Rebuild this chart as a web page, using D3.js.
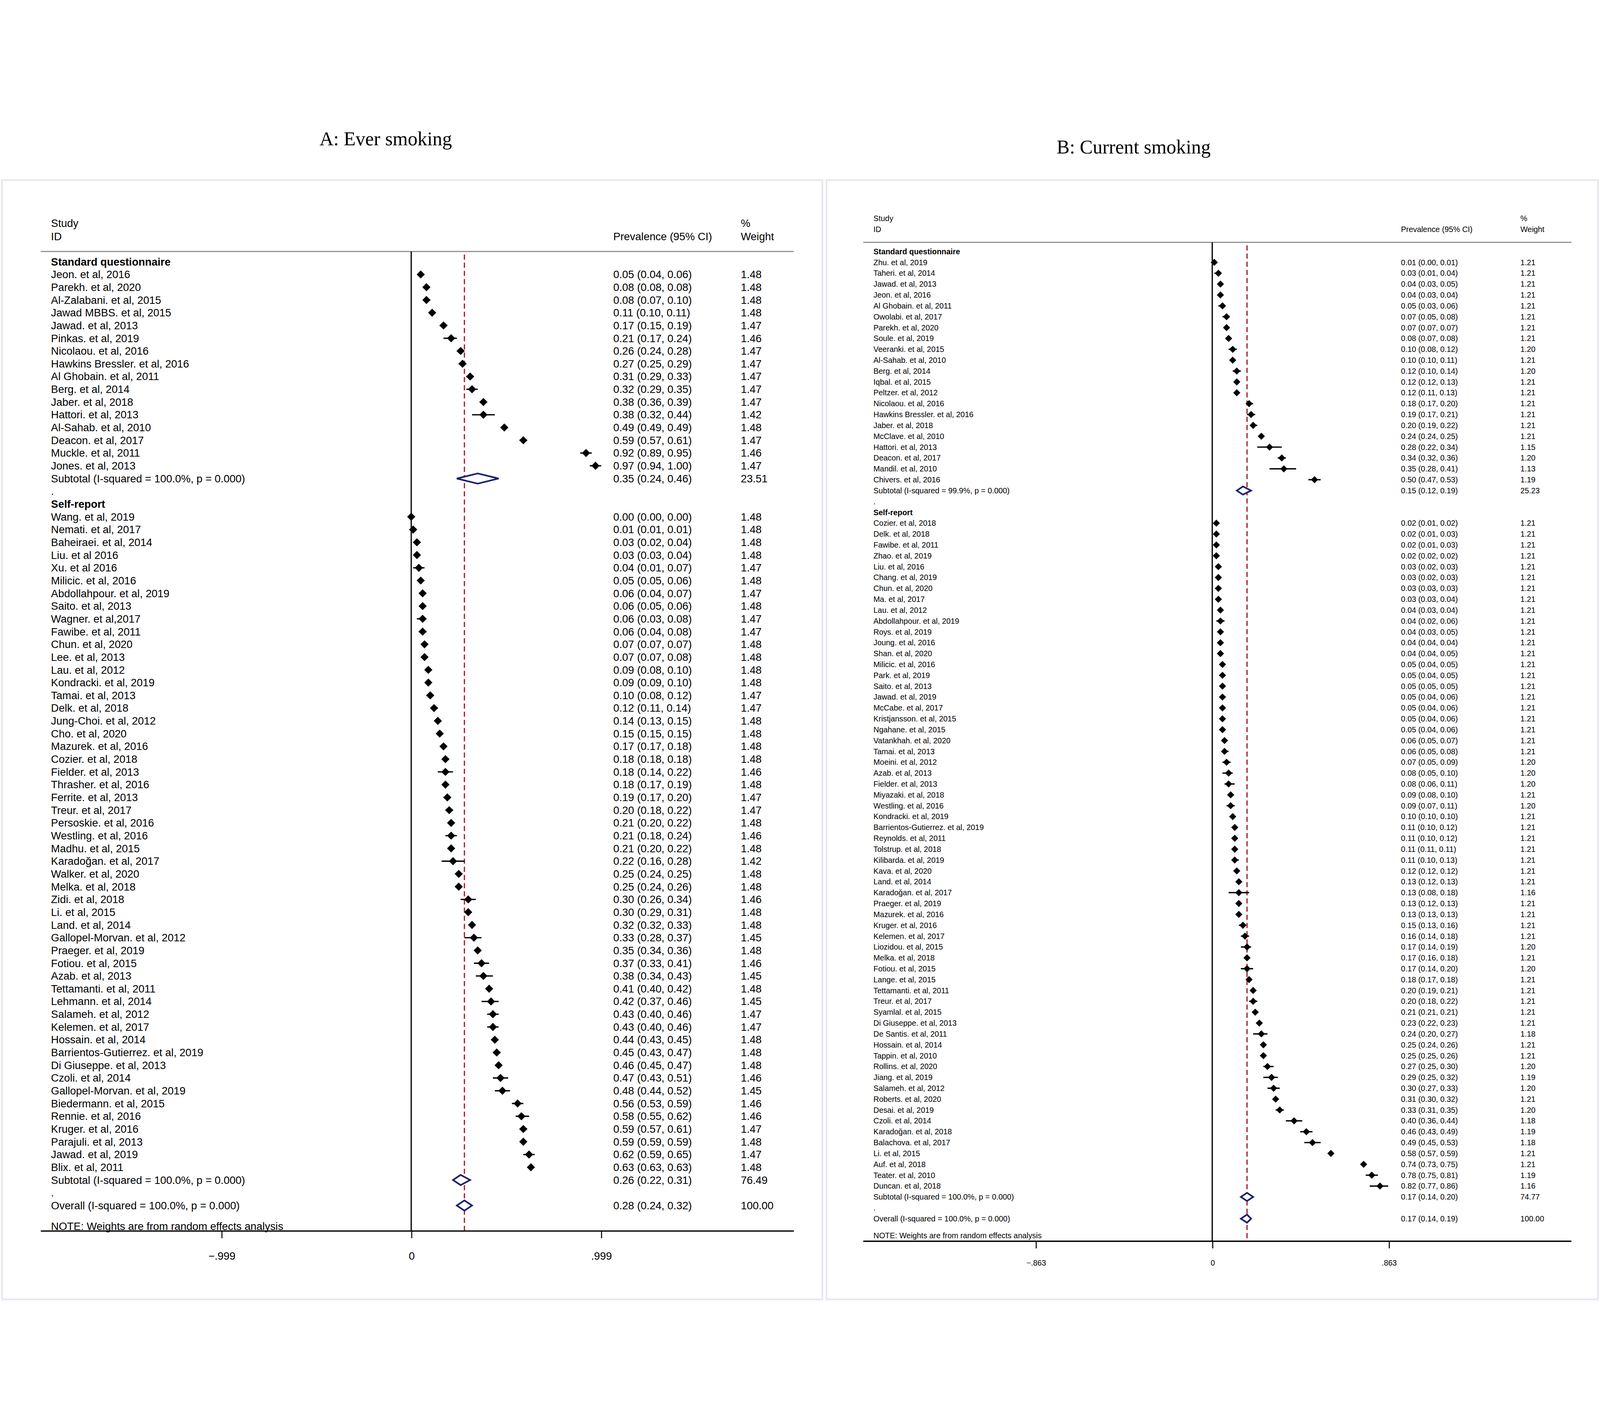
<!DOCTYPE html>
<html><head><meta charset="utf-8">
<script src="https://cdn.jsdelivr.net/npm/d3@7"></script>
<style>html,body{margin:0;padding:0;background:#fff;overflow:hidden;width:100%;height:100%}svg{display:block;width:100vw;height:100vh}</style>
</head><body>
<svg id="chart"></svg>
<script>
// Panel A: Ever smoking
var aStdStudies = ["Jeon. et al, 2016","Parekh. et al, 2020","Al-Zalabani. et al, 2015","Jawad MBBS. et al, 2015","Jawad. et al, 2013","Pinkas. et al, 2019","Nicolaou. et al, 2016","Hawkins Bressler. et al, 2016","Al Ghobain. et al, 2011","Berg. et al, 2014","Jaber. et al, 2018","Hattori. et al, 2013","Al-Sahab. et al, 2010","Deacon. et al, 2017","Muckle. et al, 2011","Jones. et al, 2013"];
var aStdEst = [.05,.08,.08,.11,.17,.21,.26,.27,.31,.32,.38,.38,.49,.59,.92,.97];
var aStdLo  = [.04,.08,.07,.10,.15,.17,.24,.25,.29,.29,.36,.32,.49,.57,.89,.94];
var aStdHi  = [.06,.08,.10,.11,.19,.24,.28,.29,.33,.35,.39,.44,.49,.61,.95,1.00];
var aStdW   = ["1.48","1.48","1.48","1.48","1.47","1.46","1.47","1.47","1.47","1.47","1.47","1.42","1.48","1.47","1.46","1.47"];

var aSelfStudies = ["Wang. et al, 2019","Nemati. et al, 2017","Baheiraei. et al, 2014","Liu. et al 2016","Xu. et al 2016","Milicic. et al, 2016","Abdollahpour. et al, 2019","Saito. et al, 2013","Wagner. et al,2017","Fawibe. et al, 2011","Chun. et al, 2020","Lee. et al, 2013","Lau. et al, 2012","Kondracki. et al, 2019","Tamai. et al, 2013","Delk. et al, 2018","Jung-Choi. et al, 2012","Cho. et al, 2020","Mazurek. et al, 2016","Cozier. et al, 2018","Fielder. et al, 2013","Thrasher. et al, 2016","Ferrite. et al, 2013","Treur. et al, 2017","Persoskie. et al, 2016","Westling. et al, 2016","Madhu. et al, 2015","Karadoğan. et al, 2017","Walker. et al, 2020","Melka. et al, 2018","Zidi. et al, 2018","Li. et al, 2015","Land. et al, 2014","Gallopel-Morvan. et al, 2012","Praeger. et al, 2019","Fotiou. et al, 2015","Azab. et al, 2013","Tettamanti. et al, 2011","Lehmann. et al, 2014","Salameh. et al, 2012","Kelemen. et al, 2017","Hossain. et al, 2014","Barrientos-Gutierrez. et al, 2019","Di Giuseppe. et al, 2013","Czoli. et al, 2014","Gallopel-Morvan. et al, 2019","Biedermann. et al, 2015","Rennie. et al, 2016","Kruger. et al, 2016","Parajuli. et al, 2013","Jawad. et al, 2019","Blix. et al, 2011"];
var aSelfEst = [.00,.01,.03,.03,.04,.05,.06,.06,.06,.06,.07,.07,.09,.09,.10,.12,.14,.15,.17,.18,.18,.18,.19,.20,.21,.21,.21,.22,.25,.25,.30,.30,.32,.33,.35,.37,.38,.41,.42,.43,.43,.44,.45,.46,.47,.48,.56,.58,.59,.59,.62,.63];
var aSelfLo  = [.00,.01,.02,.03,.01,.05,.04,.05,.03,.04,.07,.07,.08,.09,.08,.11,.13,.15,.17,.18,.14,.17,.17,.18,.20,.18,.20,.16,.24,.24,.26,.29,.32,.28,.34,.33,.34,.40,.37,.40,.40,.43,.43,.45,.43,.44,.53,.55,.57,.59,.59,.63];
var aSelfHi  = [.00,.01,.04,.04,.07,.06,.07,.06,.08,.08,.07,.08,.10,.10,.12,.14,.15,.15,.18,.18,.22,.19,.20,.22,.22,.24,.22,.28,.25,.26,.34,.31,.33,.37,.36,.41,.43,.42,.46,.46,.46,.45,.47,.47,.51,.52,.59,.62,.61,.59,.65,.63];
var aSelfW   = ["1.48","1.48","1.48","1.48","1.47","1.48","1.47","1.48","1.47","1.47","1.48","1.48","1.48","1.48","1.47","1.47","1.48","1.48","1.48","1.48","1.46","1.48","1.47","1.47","1.48","1.46","1.48","1.42","1.48","1.48","1.46","1.48","1.48","1.45","1.48","1.46","1.45","1.48","1.45","1.47","1.47","1.48","1.48","1.48","1.46","1.45","1.46","1.46","1.47","1.48","1.47","1.48"];
var aSub = [{lab:"Subtotal  (I-squared = 100.0%, p = 0.000)", est:.35, lo:.24, hi:.46, w:"23.51"},
            {lab:"Subtotal  (I-squared = 100.0%, p = 0.000)", est:.26, lo:.22, hi:.31, w:"76.49"},
            {lab:"Overall  (I-squared = 100.0%, p = 0.000)", est:.28, lo:.24, hi:.32, w:"100.00"}];

// Panel B: Current smoking
var bStdStudies = ["Zhu. et al, 2019","Taheri. et al, 2014","Jawad. et al, 2013","Jeon. et al, 2016","Al Ghobain. et al, 2011","Owolabi. et al, 2017","Parekh. et al, 2020","Soule. et al, 2019","Veeranki. et al, 2015","Al-Sahab. et al, 2010","Berg. et al, 2014","Iqbal. et al, 2015","Peltzer. et al, 2012","Nicolaou. et al, 2016","Hawkins Bressler. et al, 2016","Jaber. et al, 2018","McClave. et al, 2010","Hattori. et al, 2013","Deacon. et al, 2017","Mandil. et al, 2010","Chivers. et al, 2016"];
var bStdEst = [.01,.03,.04,.04,.05,.07,.07,.08,.10,.10,.12,.12,.12,.18,.19,.20,.24,.28,.34,.35,.50];
var bStdLo  = [.00,.01,.03,.03,.03,.05,.07,.07,.08,.10,.10,.12,.11,.17,.17,.19,.24,.22,.32,.28,.47];
var bStdHi  = [.01,.04,.05,.04,.06,.08,.07,.08,.12,.11,.14,.13,.13,.20,.21,.22,.25,.34,.36,.41,.53];
var bStdW   = ["1.21","1.21","1.21","1.21","1.21","1.21","1.21","1.21","1.20","1.21","1.20","1.21","1.21","1.21","1.21","1.21","1.21","1.15","1.20","1.13","1.19"];

var bSelfStudies = ["Cozier. et al, 2018","Delk. et al, 2018","Fawibe. et al, 2011","Zhao. et al, 2019","Liu. et al, 2016","Chang. et al, 2019","Chun. et al, 2020","Ma. et al, 2017","Lau. et al, 2012","Abdollahpour. et al, 2019","Roys. et al, 2019","Joung. et al, 2016","Shan. et al, 2020","Milicic. et al, 2016","Park. et al, 2019","Saito. et al, 2013","Jawad. et al, 2019","McCabe. et al, 2017","Kristjansson. et al, 2015","Ngahane. et al, 2015","Vatankhah. et al, 2020","Tamai. et al, 2013","Moeini. et al, 2012","Azab. et al, 2013","Fielder. et al, 2013","Miyazaki. et al, 2018","Westling. et al, 2016","Kondracki. et al, 2019","Barrientos-Gutierrez. et al, 2019","Reynolds. et al, 2011","Tolstrup. et al, 2018","Kilibarda. et al, 2019","Kava. et al, 2020","Land. et al, 2014","Karadoğan. et al, 2017","Praeger. et al, 2019","Mazurek. et al, 2016","Kruger. et al, 2016","Kelemen. et al, 2017","Liozidou. et al, 2015","Melka. et al, 2018","Fotiou. et al, 2015","Lange. et al, 2015","Tettamanti. et al, 2011","Treur. et al, 2017","Syamlal. et al, 2015","Di Giuseppe. et al, 2013","De Santis. et al, 2011","Hossain. et al, 2014","Tappin. et al, 2010","Rollins. et al, 2020","Jiang. et al, 2019","Salameh. et al, 2012"," Roberts. et al, 2020","Desai. et al, 2019","Czoli. et al, 2014","Karadoğan. et al, 2018","Balachova. et al, 2017","Li. et al, 2015","Auf. et al, 2018","Teater. et al, 2010","Duncan. et al, 2018"];
var bSelfEst = [.02,.02,.02,.02,.03,.03,.03,.03,.04,.04,.04,.04,.04,.05,.05,.05,.05,.05,.05,.05,.06,.06,.07,.08,.08,.09,.09,.10,.11,.11,.11,.11,.12,.13,.13,.13,.13,.15,.16,.17,.17,.17,.18,.20,.20,.21,.23,.24,.25,.25,.27,.29,.30,.31,.33,.40,.46,.49,.58,.74,.78,.82];
var bSelfLo  = [.01,.01,.01,.02,.02,.02,.03,.03,.03,.02,.03,.04,.04,.04,.04,.05,.04,.04,.04,.04,.05,.05,.05,.05,.06,.08,.07,.10,.10,.10,.11,.10,.12,.12,.08,.12,.13,.13,.14,.14,.16,.14,.17,.19,.18,.21,.22,.20,.24,.25,.25,.25,.27,.30,.31,.36,.43,.45,.57,.73,.75,.77];
var bSelfHi  = [.02,.03,.03,.02,.03,.03,.03,.04,.04,.06,.05,.04,.05,.05,.05,.05,.06,.06,.06,.06,.07,.08,.09,.10,.11,.10,.11,.10,.12,.12,.11,.13,.12,.13,.18,.13,.13,.16,.18,.19,.18,.20,.18,.21,.22,.21,.23,.27,.26,.26,.30,.32,.33,.32,.35,.44,.49,.53,.59,.75,.81,.86];
var bSelfW   = ["1.21","1.21","1.21","1.21","1.21","1.21","1.21","1.21","1.21","1.21","1.21","1.21","1.21","1.21","1.21","1.21","1.21","1.21","1.21","1.21","1.21","1.21","1.20","1.20","1.20","1.21","1.20","1.21","1.21","1.21","1.21","1.21","1.21","1.21","1.16","1.21","1.21","1.21","1.21","1.20","1.21","1.20","1.21","1.21","1.21","1.21","1.21","1.18","1.21","1.21","1.20","1.19","1.20","1.21","1.20","1.18","1.19","1.18","1.21","1.21","1.19","1.16"];
var bSub = [{lab:"Subtotal  (I-squared = 99.9%, p = 0.000)", est:.15, lo:.12, hi:.19, w:"25.23"},
            {lab:"Subtotal  (I-squared = 100.0%, p = 0.000)", est:.17, lo:.14, hi:.20, w:"74.77"},
            {lab:"Overall  (I-squared = 100.0%, p = 0.000)", est:.17, lo:.14, hi:.19, w:"100.00"}];

var svg = d3.select("#chart")
  .attr("viewBox", "0 0 1568 1174").attr("preserveAspectRatio", "xMidYMid meet");

function f2(v) { return d3.format(".2f")(v); }

function drawPanel(p) {
  var g = svg.append("g");
  g.append("rect").attr("x", p.box[0]).attr("y", 75).attr("width", p.box[1] - p.box[0]).attr("height", 1097)
    .attr("fill", "none").attr("stroke", "#e4e6ee").attr("stroke-width", 1.5);
  g.append("text").attr("x", p.titleX).attr("y", p.titleY).attr("text-anchor", "middle")
    .attr("font-family", "Liberation Serif, serif").attr("font-size", 19).text(p.title);

  var x = d3.scaleLinear().domain([-p.tick, p.tick]).range([2 * p.x0 - p.x1, p.x1]);
  var y = d3.scaleLinear().domain([0, 1]).range([p.y0, p.y0 + p.dy]);
  var font = "Liberation Sans, Arial, sans-serif";
  var fs = p.fs;

  // rows: header, studies, subtotal, ".", header, studies, subtotal, ".", overall
  var rows = [];
  rows.push({type: "head", lab: "Standard questionnaire"});
  p.std.names.forEach(function (n, i) { rows.push({type: "s", lab: n, est: p.std.est[i], lo: p.std.lo[i], hi: p.std.hi[i], w: p.std.w[i]}); });
  rows.push(Object.assign({type: "sub"}, p.sub[0]));
  rows.push({type: "dot", lab: "."});
  rows.push({type: "head", lab: "Self-report"});
  p.self.names.forEach(function (n, i) { rows.push({type: "s", lab: n, est: p.self.est[i], lo: p.self.lo[i], hi: p.self.hi[i], w: p.self.w[i]}); });
  rows.push(Object.assign({type: "sub"}, p.sub[1]));
  rows.push({type: "dot", lab: "."});
  rows.push(Object.assign({type: "sub"}, p.sub[2]));

  // header
  g.append("text").attr("x", p.labX).attr("y", p.headY[0]).attr("font-family", font).attr("font-size", fs).text("Study");
  g.append("text").attr("x", p.labX).attr("y", p.headY[1]).attr("font-family", font).attr("font-size", fs).text("ID");
  g.append("text").attr("x", p.prevX).attr("y", p.headY[1]).attr("font-family", font).attr("font-size", fs).text("Prevalence (95% CI)");
  g.append("text").attr("x", p.wX).attr("y", p.headY[0]).attr("font-family", font).attr("font-size", fs).text("%");
  g.append("text").attr("x", p.wX).attr("y", p.headY[1]).attr("font-family", font).attr("font-size", fs).text("Weight");
  g.append("line").attr("x1", p.lineX[0]).attr("x2", p.lineX[1]).attr("y1", p.topY).attr("y2", p.topY)
    .attr("stroke", "#888").attr("stroke-width", 1);

  // zero line and overall dashed line
  g.append("line").attr("x1", x(0)).attr("x2", x(0)).attr("y1", p.zeroTop).attr("y2", p.botY).attr("stroke", "#000").attr("stroke-width", 1.2);
  g.append("line").attr("x1", x(p.sub[2].est)).attr("x2", x(p.sub[2].est)).attr("y1", p.topY + 3).attr("y2", p.botY)
    .attr("stroke", "#a01c2c").attr("stroke-width", 1.2).attr("stroke-dasharray", "5,3");

  rows.forEach(function (r, i) {
    var yy = y(i);
    var t = g.append("text").attr("x", p.labX).attr("y", yy + fs * 0.35).attr("font-family", font).attr("font-size", fs).text(r.lab);
    if (r.type === "head") t.attr("font-weight", "bold");
    if (r.type === "s" || r.type === "sub") {
      g.append("text").attr("x", p.prevX).attr("y", yy + fs * 0.35).attr("font-family", font).attr("font-size", fs)
        .text(f2(r.est) + " (" + f2(r.lo) + ", " + f2(r.hi) + ")");
      g.append("text").attr("x", p.wX).attr("y", yy + fs * 0.35).attr("font-family", font).attr("font-size", fs).text(r.w);
    }
    if (r.type === "s") {
      g.append("line").attr("x1", x(r.lo)).attr("x2", x(r.hi)).attr("y1", yy).attr("y2", yy).attr("stroke", "#000").attr("stroke-width", 1.3);
      var d = p.dia;
      g.append("path").attr("d", "M" + (x(r.est) - d) + "," + yy + "L" + x(r.est) + "," + (yy - d) + "L" + (x(r.est) + d) + "," + yy + "L" + x(r.est) + "," + (yy + d) + "Z")
        .attr("fill", "#000");
    }
    if (r.type === "sub") {
      var h = p.subH;
      g.append("path").attr("d", "M" + x(r.lo) + "," + yy + "L" + x(r.est) + "," + (yy - h) + "L" + x(r.hi) + "," + yy + "L" + x(r.est) + "," + (yy + h) + "Z")
        .attr("fill", "#fff").attr("stroke", "#1c1f6e").attr("stroke-width", 1.6);
    }
  });

  g.append("text").attr("x", p.labX).attr("y", p.noteY).attr("font-family", font).attr("font-size", fs)
    .text("NOTE: Weights are from random effects analysis");

  var axis = g.append("g").attr("transform", "translate(0," + p.botY + ")")
    .call(d3.axisBottom(x).tickValues([-p.tick, 0, p.tick]).tickSize(7).tickSizeOuter(0)
      .tickFormat(function (v) { return v === 0 ? "0" : d3.format(".3f")(v).replace("0.", "."); }));
  axis.select(".domain").remove();
  axis.append("line").attr("x1", p.lineX[0]).attr("x2", p.lineX[1]).attr("stroke", "#000").attr("stroke-width", 1.3);
  axis.selectAll("text").attr("font-family", font).attr("font-size", fs).attr("dy", p.tickDy).attr("fill", "#000");
}

drawPanel({
  box: [2, 806], title: "A: Ever smoking", titleX: 378, titleY: 41,
  x0: 403, x1: 589, tick: 0.999, y0: 155, dy: 12.5, fs: 10.5,
  labX: 50, prevX: 601, wX: 726, headY: [121, 134], topY: 145, zeroTop: 145, botY: 1105,
  lineX: [40, 778], noteY: 1104, dia: 4, subH: 5, tickDy: 18,
  std: {names: aStdStudies, est: aStdEst, lo: aStdLo, hi: aStdHi, w: aStdW},
  self: {names: aSelfStudies, est: aSelfEst, lo: aSelfLo, hi: aSelfHi, w: aSelfW},
  sub: aSub
});

drawPanel({
  box: [810, 1566], title: "B: Current smoking", titleX: 1111, titleY: 49,
  x0: 1188, x1: 1361, tick: 0.863, y0: 145, dy: 10.65, fs: 7.6,
  labX: 856, prevX: 1373, wX: 1490, headY: [115, 126], topY: 136, zeroTop: 136, botY: 1115,
  lineX: [846, 1540], noteY: 1112, dia: 3.5, subH: 4, tickDy: 14,
  std: {names: bStdStudies, est: bStdEst, lo: bStdLo, hi: bStdHi, w: bStdW},
  self: {names: bSelfStudies, est: bSelfEst, lo: bSelfLo, hi: bSelfHi, w: bSelfW},
  sub: bSub
});
</script>
</body></html>
